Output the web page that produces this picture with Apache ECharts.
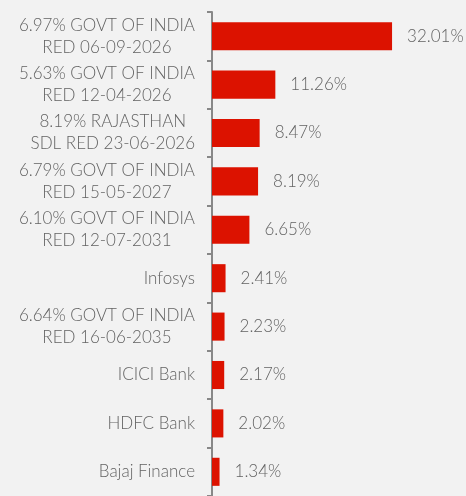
<!DOCTYPE html>
<html><head><meta charset="utf-8">
<script src="https://cdn.jsdelivr.net/npm/echarts@6/dist/echarts.min.js"></script>
<style>html,body{margin:0;padding:0;background:#f2f2f2;}#c{width:466px;height:496px;}</style>
</head><body><div id="c"></div>
<script>
const categories = [
  "6.97% GOVT OF INDIA\nRED 06-09-2026",
  "5.63% GOVT OF INDIA\nRED 12-04-2026",
  "8.19% RAJASTHAN\nSDL RED 23-06-2026",
  "6.79% GOVT OF INDIA\nRED 15-05-2027",
  "6.10% GOVT OF INDIA\nRED 12-07-2031",
  "Infosys",
  "6.64% GOVT OF INDIA\nRED 16-06-2035",
  "ICICI Bank",
  "HDFC Bank",
  "Bajaj Finance"
];
const values = [32.01, 11.26, 8.47, 8.19, 6.65, 2.41, 2.23, 2.17, 2.02, 1.34];

const font = {color: '#636363', fontFamily: 'Lato', fontWeight: 300, fontSize: 17, lineHeight: 22};
const chart = echarts.init(document.getElementById('c'), null, {renderer:'canvas'});
chart.setOption({
  backgroundColor: '#f2f2f2',
  animation: false,
  grid: {left: 212, top: 12, width: 225, height: 485, containLabel: false},
  xAxis: {type: 'value', min: 0, max: 40, show: false},
  yAxis: {
    type: 'category', data: categories, inverse: true,
    axisLine: {show: true, lineStyle: {color: '#888', width: 2}},
    axisTick: {show: true, length: 5, lineStyle: {color: '#888', width: 2}},
    axisLabel: Object.assign({}, font, {margin: 17, align: 'right',
      formatter: v => v.split('\n').map(l => '{c|' + l + '}').join('\n'),
      rich: {c: Object.assign({align: 'center'}, font)}})
  },
  series: [{
    type: 'bar', data: values, barWidth: '58%',
    itemStyle: {color: '#dc1200'},
    label: Object.assign({show: true, position: 'right', distance: 15,
      formatter: p => p.value.toFixed(2) + '%'}, font)
  }]
});
</script></body></html>
